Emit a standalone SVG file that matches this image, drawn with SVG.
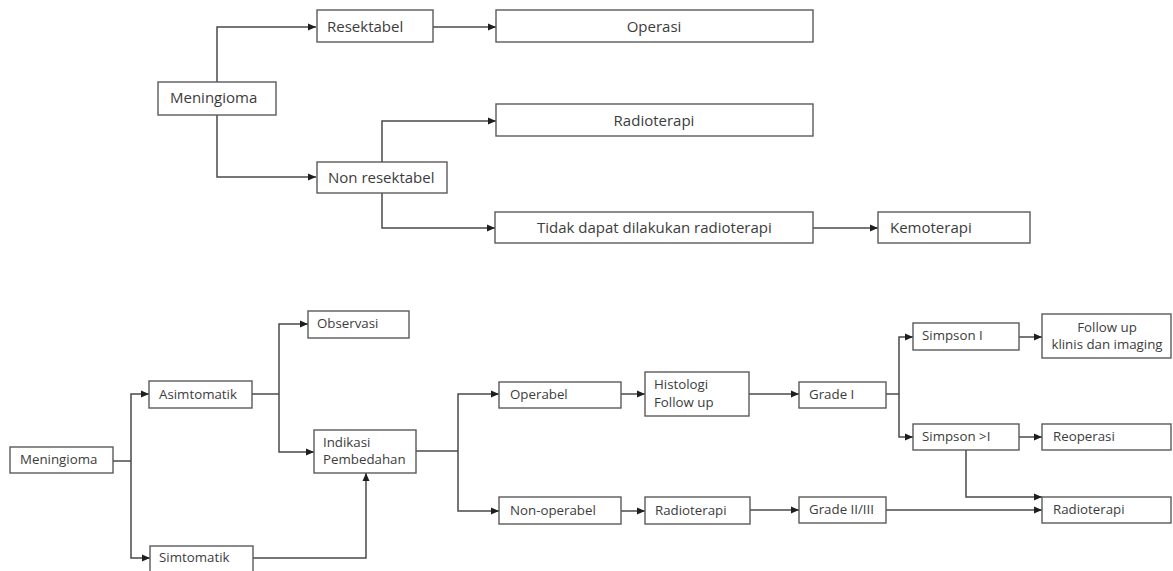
<svg xmlns="http://www.w3.org/2000/svg" width="1173" height="571" viewBox="0 0 1173 571">
  <style>
    .box { fill: #ffffff; stroke: #5a5a5a; stroke-width: 1.4; }
    .lbl { font-family: "Open Sans", "Noto Sans", sans-serif; fill: #3c3c3c; }
    .t1 { font-size: 15px; }
    .t2 { font-size: 13.3px; }
    .mid { text-anchor: middle; }
    .edge { fill: none; stroke: #4a4a4a; stroke-width: 1.5; }
  </style>
  <defs>
    <marker id="arrow" markerUnits="userSpaceOnUse" markerWidth="9" markerHeight="8" refX="8" refY="4" orient="auto">
      <path d="M0,0.5 L8,4 L0,7.5 Z" fill="#1e1e1e"/>
    </marker>
  </defs>
  <rect width="1173" height="571" fill="#ffffff"/>

  <!-- Connectors -->
  <g id="connectors">
    <!-- upper chart -->
    <path class="edge" d="M217,82 V27 H316" marker-end="url(#arrow)"/>
    <path class="edge" d="M217,115 V177 H316" marker-end="url(#arrow)"/>
    <path class="edge" d="M433,27 H496" marker-end="url(#arrow)"/>
    <path class="edge" d="M382,162 V121 H496" marker-end="url(#arrow)"/>
    <path class="edge" d="M382,193 V228 H495" marker-end="url(#arrow)"/>
    <path class="edge" d="M813,228 H878" marker-end="url(#arrow)"/>

    <!-- lower chart -->
    <path class="edge" d="M113,461 H131"/>
    <path class="edge" d="M131,461 V394 H149" marker-end="url(#arrow)"/>
    <path class="edge" d="M131,461 V558 H150" marker-end="url(#arrow)"/>
    <path class="edge" d="M252,394 H279"/>
    <path class="edge" d="M279,394 V324 H308" marker-end="url(#arrow)"/>
    <path class="edge" d="M279,394 V452 H314" marker-end="url(#arrow)"/>
    <path class="edge" d="M253,558 H366 V473" marker-end="url(#arrow)"/>
    <path class="edge" d="M416,451 H458"/>
    <path class="edge" d="M458,451 V394 H499" marker-end="url(#arrow)"/>
    <path class="edge" d="M458,451 V511 H499" marker-end="url(#arrow)"/>
    <path class="edge" d="M621,394 H645" marker-end="url(#arrow)"/>
    <path class="edge" d="M621,511 H645" marker-end="url(#arrow)"/>
    <path class="edge" d="M749,394 H799" marker-end="url(#arrow)"/>
    <path class="edge" d="M750,510 H799" marker-end="url(#arrow)"/>
    <path class="edge" d="M886,394 H899"/>
    <path class="edge" d="M899,394 V337 H913" marker-end="url(#arrow)"/>
    <path class="edge" d="M899,394 V437 H913" marker-end="url(#arrow)"/>
    <path class="edge" d="M1019,337 H1042" marker-end="url(#arrow)"/>
    <path class="edge" d="M1019,437 H1042" marker-end="url(#arrow)"/>
    <path class="edge" d="M966,450 V497 H1042" marker-end="url(#arrow)"/>
    <path class="edge" d="M886,510 H1042" marker-end="url(#arrow)"/>
  </g>

  <!-- Upper chart nodes -->
  <g id="top-meningioma">
    <rect class="box" x="158" y="82" width="118" height="33"/>
    <text class="lbl t1" x="170" y="103">Meningioma</text>
  </g>
  <g id="top-resektabel">
    <rect class="box" x="317" y="10" width="116" height="32"/>
    <text class="lbl t1" x="327" y="32">Resektabel</text>
  </g>
  <g id="top-operasi">
    <rect class="box" x="496" y="10" width="317" height="32"/>
    <text class="lbl t1 mid" x="654" y="32">Operasi</text>
  </g>
  <g id="top-non-resektabel">
    <rect class="box" x="317" y="162" width="130" height="31"/>
    <text class="lbl t1" x="328" y="183">Non resektabel</text>
  </g>
  <g id="top-radioterapi">
    <rect class="box" x="496" y="104" width="317" height="32"/>
    <text class="lbl t1 mid" x="654" y="126">Radioterapi</text>
  </g>
  <g id="top-tidak-dapat">
    <rect class="box" x="495" y="212" width="318" height="31"/>
    <text class="lbl t1" x="537" y="233">Tidak dapat dilakukan radioterapi</text>
  </g>
  <g id="top-kemoterapi">
    <rect class="box" x="878" y="212" width="152" height="31"/>
    <text class="lbl t1" x="890" y="233">Kemoterapi</text>
  </g>

  <!-- Lower chart nodes -->
  <g id="bot-meningioma">
    <rect class="box" x="10" y="447" width="103" height="26"/>
    <text class="lbl t2" x="20" y="464">Meningioma</text>
  </g>
  <g id="bot-asimtomatik">
    <rect class="box" x="149" y="381" width="103" height="27"/>
    <text class="lbl t2" x="159" y="399">Asimtomatik</text>
  </g>
  <g id="bot-simtomatik">
    <rect class="box" x="150" y="546" width="103" height="28"/>
    <text class="lbl t2" x="159" y="562">Simtomatik</text>
  </g>
  <g id="bot-observasi">
    <rect class="box" x="308" y="311" width="101" height="27"/>
    <text class="lbl t2" x="317" y="328">Observasi</text>
  </g>
  <g id="bot-indikasi">
    <rect class="box" x="314" y="430" width="102" height="43"/>
    <text class="lbl t2" x="323" y="447">Indikasi</text>
    <text class="lbl t2" x="323" y="464">Pembedahan</text>
  </g>
  <g id="bot-operabel">
    <rect class="box" x="499" y="382" width="122" height="26"/>
    <text class="lbl t2" x="510" y="399">Operabel</text>
  </g>
  <g id="bot-non-operabel">
    <rect class="box" x="499" y="497" width="122" height="27"/>
    <text class="lbl t2" x="510" y="515">Non-operabel</text>
  </g>
  <g id="bot-histologi">
    <rect class="box" x="645" y="372" width="104" height="44"/>
    <text class="lbl t2" x="654" y="389">Histologi</text>
    <text class="lbl t2" x="654" y="407">Follow up</text>
  </g>
  <g id="bot-radioterapi-1">
    <rect class="box" x="645" y="497" width="105" height="27"/>
    <text class="lbl t2" x="655" y="515">Radioterapi</text>
  </g>
  <g id="bot-grade-1">
    <rect class="box" x="799" y="382" width="87" height="26"/>
    <text class="lbl t2" x="809" y="399">Grade I</text>
  </g>
  <g id="bot-grade-2-3">
    <rect class="box" x="799" y="497" width="87" height="26"/>
    <text class="lbl t2" x="809" y="514">Grade II/III</text>
  </g>
  <g id="bot-simpson-1">
    <rect class="box" x="913" y="323" width="106" height="27"/>
    <text class="lbl t2" x="922" y="340">Simpson I</text>
  </g>
  <g id="bot-simpson-gt1">
    <rect class="box" x="913" y="424" width="106" height="26"/>
    <text class="lbl t2" x="922" y="441">Simpson &gt;I</text>
  </g>
  <g id="bot-follow-up">
    <rect class="box" x="1042" y="314" width="129" height="44"/>
    <text class="lbl t2 mid" x="1107" y="332">Follow up</text>
    <text class="lbl t2 mid" x="1107" y="349">klinis dan imaging</text>
  </g>
  <g id="bot-reoperasi">
    <rect class="box" x="1042" y="424" width="129" height="26"/>
    <text class="lbl t2" x="1053" y="441">Reoperasi</text>
  </g>
  <g id="bot-radioterapi-2">
    <rect class="box" x="1042" y="497" width="129" height="26"/>
    <text class="lbl t2" x="1053" y="514">Radioterapi</text>
  </g>
</svg>
